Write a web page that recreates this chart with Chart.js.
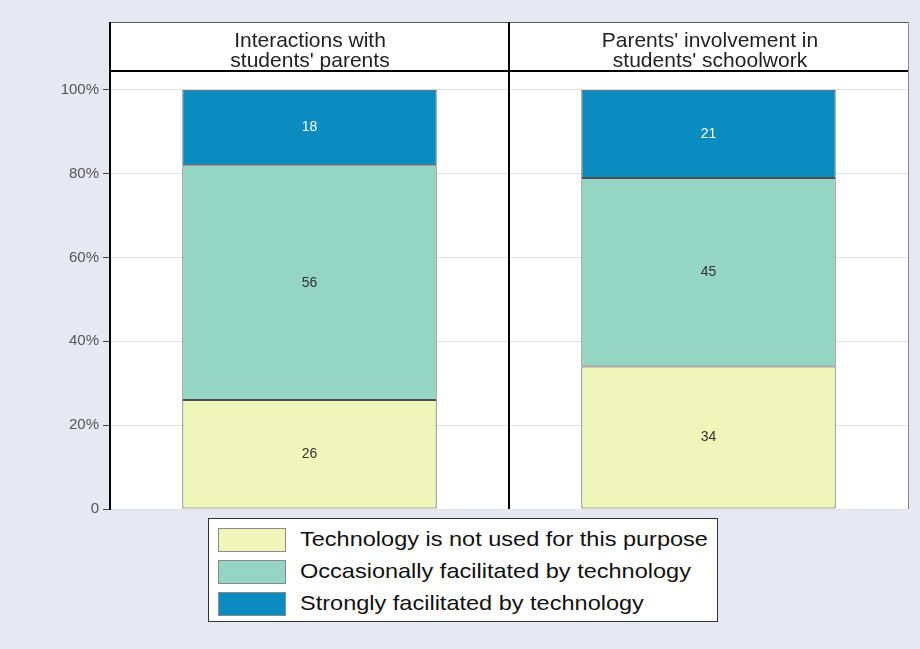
<!DOCTYPE html>
<html>
    <head>
        <meta charset="utf-8">
        <title>Technology and parents</title>
        <script src="https://cdn.jsdelivr.net/npm/chart.js@4.4.0/dist/chart.umd.min.js"></script>
        <style>
            body { margin: 0; background: #e6e9f2; font-family: "Liberation Sans", Arial, sans-serif; }
            #wrap { position: relative; width: 920px; height: 649px; }
            #chart { position: absolute; left: 0; top: 0; }
            .head { position: absolute; top: 30px; width: 400px; text-align: center; font-size: 21px; line-height: 19.5px; color: #222; }
            #legend { position: absolute; left: 208px; top: 518px; width: 510px; height: 104px; background: #fff; border: 1px solid #333; box-sizing: border-box; }
            .item { position: absolute; left: 9px; height: 24px; }
            .sw { position: absolute; left: 0; top: 0; width: 66px; height: 22px; border: 1px solid #8a8a8a; }
            .lab { position: absolute; left: 82px; top: -1px; font-size: 21px; white-space: nowrap; color: #111; transform-origin: left center; transform: scaleX(1.12); }
        </style>
    </head>
    <body>
        <div id="wrap">
            <canvas id="chart" width="920" height="649"></canvas>
            <div class="head" style="left:110px">Interactions with<br>students' parents</div>
            <div class="head" style="left:510px">Parents' involvement in<br>students' schoolwork</div>
            <div id="legend"></div>
        </div>

        <script>
            const categories = ["Interactions with students' parents", "Parents' involvement in students' schoolwork"]
            const seriesNames = ['Technology is not used for this purpose', 'Occasionally facilitated by technology', 'Strongly facilitated by technology']
            const notUsed = [26, 34]
            const occasionally = [56, 45]
            const strongly = [18, 21]
            const yTicks = [0, 20, 40, 60, 80, 100]

            const fills = ['#eef7b9', '#95d5c4', '#0b8cc0']
            const labelColors = ['#333', '#333', '#fff']
            const HEADER_TOP = 22

            // white plot area + header box, drawn under the bars
            const panelBg = {
                id: 'panelBg',
                beforeDraw(chart) {
                    const {ctx, chartArea: a} = chart
                    ctx.save()
                    ctx.fillStyle = '#fff'
                    ctx.fillRect(a.left, HEADER_TOP, a.right - a.left, a.bottom - HEADER_TOP)
                    ctx.restore()
                }
            }

            // panel borders, header lines and segment values
            const panelLines = {
                id: 'panelLines',
                afterDraw(chart) {
                    const {ctx, chartArea: a} = chart
                    const xs = chart.scales.x
                    const mid = (xs.getPixelForValue(0) + xs.getPixelForValue(1)) / 2
                    ctx.save()
                    ctx.strokeStyle = '#888'
                    ctx.lineWidth = 1
                    ctx.beginPath()
                    ctx.moveTo(a.right + 0.5, HEADER_TOP)
                    ctx.lineTo(a.right + 0.5, a.bottom)
                    ctx.stroke()
                    ctx.strokeStyle = '#555'
                    ctx.beginPath()
                    ctx.moveTo(a.left, HEADER_TOP + 0.5)
                    ctx.lineTo(a.right, HEADER_TOP + 0.5)
                    ctx.stroke()
                    ctx.strokeStyle = '#000'
                    ctx.lineWidth = 2
                    ctx.beginPath()
                    ctx.moveTo(a.left, a.top)
                    ctx.lineTo(a.right, a.top)
                    ctx.moveTo(mid, HEADER_TOP)
                    ctx.lineTo(mid, a.bottom)
                    ctx.moveTo(a.left, HEADER_TOP)
                    ctx.lineTo(a.left, a.top)
                    ctx.stroke()

                    ctx.font = '14px "Liberation Sans", Arial, sans-serif'
                    ctx.textAlign = 'center'
                    ctx.textBaseline = 'middle'
                    chart.data.datasets.forEach((ds, i) => {
                        chart.getDatasetMeta(i).data.forEach((bar, j) => {
                            ctx.fillStyle = labelColors[i]
                            ctx.fillText(ds.data[j], bar.x, (bar.y + bar.base) / 2)
                        })
                    })
                    ctx.restore()
                }
            }

            const seriesData = [notUsed, occasionally, strongly]
            const ctx = document.getElementById('chart').getContext('2d')
            const myChart = new Chart(ctx, {
                type: 'bar',
                data: {
                    labels: categories,
                    datasets: seriesNames.map((name, i) => ({
                        label: name,
                        data: seriesData[i],
                        backgroundColor: fills[i],
                        borderColor: '#4e4e4e',
                        borderWidth: 1,
                        borderSkipped: false,
                        categoryPercentage: 1,
                        barPercentage: 0.6375
                    }))
                },
                options: {
                    responsive: false,
                    animation: false,
                    layout: { padding: { top: 71, right: 12, bottom: 140, left: 0 } },
                    plugins: { legend: { display: false }, tooltip: { enabled: false } },
                    scales: {
                        x: { stacked: true, display: false },
                        y: {
                            stacked: true,
                            min: 0,
                            max: 104.5,
                            afterFit: s => { s.width = 110 },
                            afterBuildTicks: s => { s.ticks = yTicks.map(v => ({ value: v })) },
                            grid: { color: '#e3e3e3', tickColor: '#444', tickLength: 7 },
                            border: { color: '#000', width: 2 },
                            ticks: {
                                color: '#555',
                                padding: 4,
                                font: { family: '"Liberation Sans", Arial, sans-serif', size: 15 },
                                callback: v => v === 0 ? '0' : v + '%'
                            }
                        }
                    }
                },
                plugins: [panelBg, panelLines]
            })

            const legend = document.getElementById('legend')
            seriesNames.forEach((name, i) => {
                const item = document.createElement('div')
                item.className = 'item'
                item.style.top = (9 + i * 32) + 'px'
                item.innerHTML = '<div class="sw" style="background:' + fills[i] + '"></div><div class="lab">' + name + '</div>'
                legend.appendChild(item)
            })
        </script>
    </body>
</html>
